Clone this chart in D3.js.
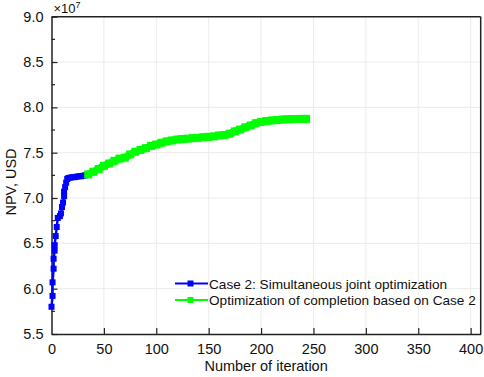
<!DOCTYPE html>
<html><head><meta charset="utf-8">
<script src="https://cdn.jsdelivr.net/npm/d3@7"></script>
<style>body{margin:0;background:#fff}svg{display:block}text{font-family:Arial,"Liberation Sans",sans-serif}</style>
</head><body>
<script>
const blueIter = [0,1,1,2,2,3,3,4,5,6,8,9,10,11,12,12,13,14,15,16,18,20,22,24,26,28,30,32,34];
const blueVal  = [5.80,5.92,6.07,6.22,6.33,6.42,6.48,6.58,6.68,6.78,6.80,6.83,6.90,6.95,7.02,7.07,7.12,7.17,7.21,7.22,7.225,7.23,7.23,7.235,7.24,7.24,7.245,7.25,7.255];
const greenIter = [35,40,45,50,55,60,65,70,75,80,85,90,95,100,105,110,115,120,125,130,135,140,145,150,155,160,165,170,175,180,185,190,195,200,205,210,215,220,225,230,235,240,243];
const greenVal  = [7.26,7.29,7.32,7.355,7.38,7.41,7.435,7.445,7.48,7.51,7.53,7.55,7.575,7.59,7.61,7.625,7.635,7.645,7.65,7.655,7.66,7.665,7.67,7.675,7.68,7.69,7.695,7.71,7.735,7.755,7.78,7.80,7.825,7.84,7.85,7.855,7.86,7.865,7.868,7.87,7.872,7.873,7.873];
const xTicks = [0,50,100,150,200,250,300,350,400];
const yTicks = [5.5,6.0,6.5,7.0,7.5,8.0,8.5,9.0];
const yMinor = [5.75,6.25,6.75,7.25,7.75,8.25,8.75];
const seriesNames = ["Case 2: Simultaneous joint optimization","Optimization of completion based on Case 2"];
const colors = ["#0000ff","#00ff00"];

const W=484,H=377;
const L=51.5,R=480.7,T=16.7,B=334;
const svg=d3.select("body").append("svg").attr("width",W).attr("height",H);
const x=d3.scaleLinear().domain([0,409.6]).range([L,R]);
const y=d3.scaleLinear().domain([5.5,9.0]).range([B,T]);

// grid
svg.append("g").selectAll("line").data(xTicks.slice(1)).join("line")
  .attr("x1",d=>x(d)).attr("x2",d=>x(d)).attr("y1",T).attr("y2",B)
  .attr("stroke","#ebebeb").attr("stroke-width",1);
svg.append("g").selectAll("line").data(yTicks.slice(1,-1)).join("line")
  .attr("x1",L).attr("x2",R).attr("y1",d=>y(d)).attr("y2",d=>y(d))
  .attr("stroke","#ebebeb").attr("stroke-width",1);

// axes
const xAxis=d3.axisBottom(x).tickValues(xTicks).tickSizeInner(-6).tickSizeOuter(0).tickPadding(10).tickFormat(d3.format("d"));
const gx=svg.append("g").attr("transform",`translate(0,${B})`).call(xAxis);
const yAxis=d3.axisLeft(y).tickValues(yTicks).tickSizeInner(-6).tickSizeOuter(0).tickPadding(8).tickFormat(d3.format(".1f"));
const gy=svg.append("g").attr("transform",`translate(${L},0)`).call(yAxis);
[gx,gy].forEach(g=>{
  g.select(".domain").attr("stroke","#222").attr("stroke-width",1.5);
  g.selectAll(".tick line").attr("stroke","#222").attr("stroke-width",1.2);
  g.selectAll(".tick text").attr("font-size",14.5).attr("fill","#111").attr("font-family","Arial,'Liberation Sans',sans-serif");
});
gx.selectAll(".tick").filter(d=>d===0).select("line").remove();
svg.append("g").selectAll("line").data(yMinor).join("line")
  .attr("x1",L).attr("x2",L+3.5).attr("y1",d=>y(d)).attr("y2",d=>y(d))
  .attr("stroke","#222").attr("stroke-width",1.2);
// top & right frame
svg.append("line").attr("x1",L).attr("x2",R).attr("y1",T).attr("y2",T).attr("stroke","#222").attr("stroke-width",1.5);
svg.append("line").attr("x1",R).attr("x2",R).attr("y1",T).attr("y2",B).attr("stroke","#222").attr("stroke-width",1.5);

// multiplier
const mt=svg.append("text").attr("x",L+2).attr("y",13).attr("font-size",13).attr("fill","#111");
mt.append("tspan").text("×10");
mt.append("tspan").attr("dy",-5).attr("font-size",9).text("7");

// data
const line=d3.line().x(d=>x(d[0])).y(d=>y(d[1]));
const blue=d3.zip(blueIter,blueVal), green=d3.zip(greenIter,greenVal);
const plot=svg.append("g");
plot.append("path").datum(blue).attr("d",line).attr("fill","none").attr("stroke",colors[0]).attr("stroke-width",2.5);
plot.selectAll(".bm").data(blue).join("rect").attr("class","bm")
  .attr("x",d=>x(d[0])-3).attr("y",d=>y(d[1])-3).attr("width",6).attr("height",6).attr("fill",colors[0]);
plot.append("path").datum(green).attr("d",line).attr("fill","none").attr("stroke",colors[1]).attr("stroke-width",7.5).attr("stroke-linejoin","round");
plot.selectAll(".gm").data(green).join("rect").attr("class","gm")
  .attr("x",d=>x(d[0])-4).attr("y",d=>y(d[1])-4).attr("width",8).attr("height",8).attr("fill",colors[1]);

// legend
const leg=svg.append("g");
const legY=[283.5,300];
seriesNames.forEach((n,i)=>{
  leg.append("line").attr("x1",175).attr("x2",208).attr("y1",legY[i]).attr("y2",legY[i]).attr("stroke",colors[i]).attr("stroke-width",2.2);
  leg.append("rect").attr("x",187.5).attr("y",legY[i]-3).attr("width",6).attr("height",6).attr("fill",colors[i]);
  leg.append("text").attr("x",209).attr("y",legY[i]+5).attr("font-size",13.6).attr("fill","#111").text(n);
});

// axis titles
svg.append("text").attr("x",(L+R)/2).attr("y",371).attr("text-anchor","middle").attr("font-size",14.5).attr("fill","#111").text("Number of iteration");
svg.append("text").attr("transform","translate(16,182) rotate(-90)").attr("text-anchor","middle").attr("font-size",14.5).attr("fill","#111").text("NPV, USD");
</script>
</body></html>
